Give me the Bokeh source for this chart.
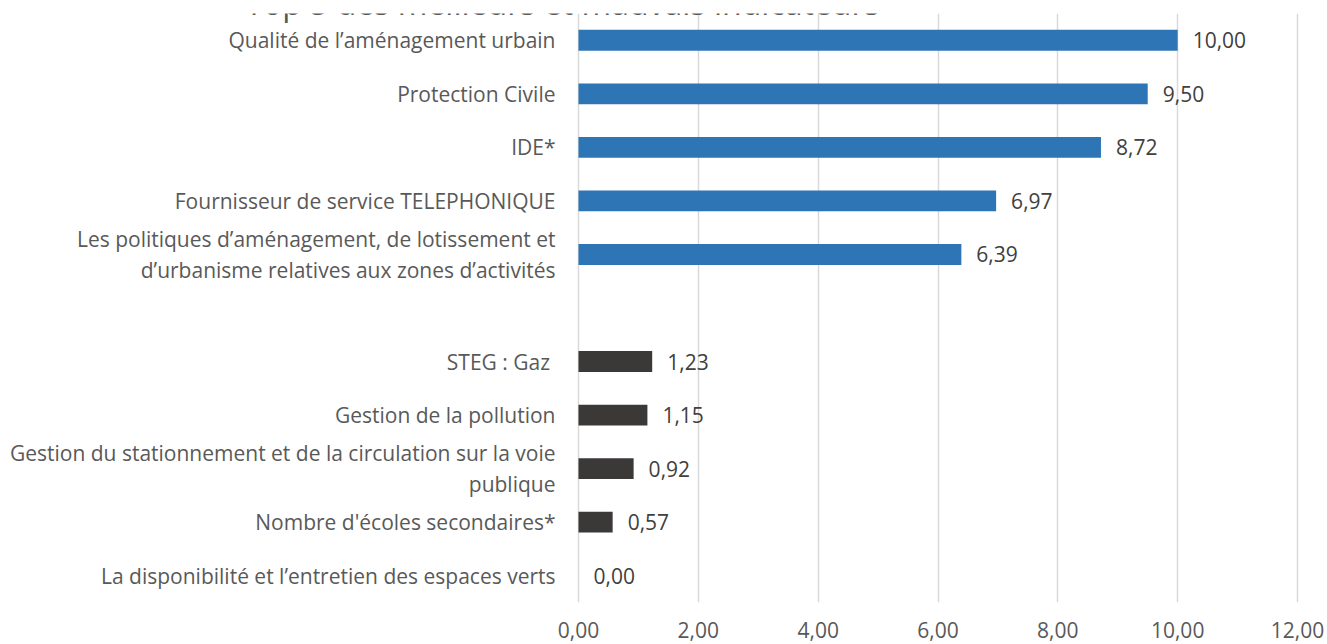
from bokeh.plotting import figure
from bokeh.models import ColumnDataSource, FactorRange, FixedTicker, Label, Range1d
from bokeh.core.properties import value
from bokeh.embed import file_html
from bokeh.resources import INLINE

# ---- data (top to bottom as displayed) ----
categories = [
    "Qualité de l’aménagement urbain",
    "Protection Civile",
    "IDE*",
    "Fournisseur de service TELEPHONIQUE",
    "Les politiques d’aménagement, de lotissement et\nd’urbanisme relatives aux zones d’activités",
    " ",
    "STEG :  Gaz",
    "Gestion de la pollution",
    "Gestion du stationnement et de la circulation sur la voie\npublique",
    "Nombre d'écoles secondaires*",
    "La disponibilité et l’entretien des espaces verts",
]
values = [10.00, 9.50, 8.72, 6.97, 6.39, None, 1.23, 1.15, 0.92, 0.57, 0.00]
groups = ["best", "best", "best", "best", "best", None, "worst", "worst", "worst", "worst", "worst"]
group_colors = {"best": "#2E75B6", "worst": "#3B3838"}
x_ticks = [0, 2, 4, 6, 8, 10, 12]
x_tick_labels = ["0,00", "2,00", "4,00", "6,00", "8,00", "10,00", "12,00"]
title_text = "Top 5 des meilleurs et mauvais indicateurs"

FONT = "Open Sans"
FS = "21px"

# layout (pixels)
W, H = 1327, 644
AXIS_LEFT_PX = 578      # where value 0 sits
AXIS_RIGHT_PX = 1297    # where value 12 sits
TOP, BOTTOM = 13, 42

x_min, x_max = x_ticks[0], x_ticks[-1]
upp = (x_max - x_min) / (AXIS_RIGHT_PX - AXIS_LEFT_PX)   # data units per pixel
x_range = Range1d(x_min - AXIS_LEFT_PX * upp, x_max + (W - AXIS_RIGHT_PX) * upp)

rows = [(c, v, g) for c, v, g in zip(categories, values, groups) if v is not None]
src = ColumnDataSource(dict(
    cat=[r[0] for r in rows],
    val=[r[1] for r in rows],
    color=[group_colors[r[2]] for r in rows],
    lab=[f"{r[1]:.2f}".replace(".", ",") for r in rows],
    zero=[x_min] * len(rows),
))
cat_src = ColumnDataSource(dict(cat=categories, zero=[x_min] * len(categories)))

y_range = FactorRange(factors=list(reversed(categories)), range_padding=0)

p = figure(
    width=W, height=H,
    y_range=y_range, x_range=x_range,
    output_backend="svg", toolbar_location=None,
    y_axis_location=None,
    min_border_left=0, min_border_right=0,
    min_border_top=TOP, min_border_bottom=BOTTOM,
    outline_line_color=None,
)

p.hbar(y="cat", right="val", left="zero", height=0.39,
       fill_color="color", line_color=None, source=src)
p.text(x="val", y="cat", text="lab", source=src, x_offset=15,
       text_baseline="middle", text_align="left",
       text_font=value(FONT), text_font_size=FS, text_color="#404040")

# category labels, right-aligned left of the value axis
p.text(x="zero", y="cat", text="cat", source=cat_src, x_offset=-23,
       text_baseline="middle", text_align="right", text_line_height=1.1,
       text_font=value(FONT), text_font_size=FS, text_color="#595959")

# x axis
p.xaxis.ticker = FixedTicker(ticks=x_ticks)
p.xaxis.major_label_overrides = {t: l for t, l in zip(x_ticks, x_tick_labels)}
p.xaxis.axis_line_color = None
p.xaxis.major_tick_line_color = None
p.xaxis.minor_tick_line_color = None
p.xaxis.major_label_standoff = 13
p.xaxis.major_label_text_font = FONT
p.xaxis.major_label_text_font_size = FS
p.xaxis.major_label_text_color = "#595959"

p.ygrid.grid_line_color = None
p.xgrid.grid_line_color = "#D9D9D9"
p.xgrid.grid_line_width = 1.5

p.add_layout(Label(x=-16 + AXIS_LEFT_PX, y=H - TOP - BOTTOM + 11,
                   x_units="screen", y_units="screen",
                   text=title_text, text_align="center", text_baseline="alphabetic",
                   text_font=FONT, text_font_size="32px", text_color="#595959",
                   level="overlay"))

open("out.html", "w").write(file_html(p, INLINE))
